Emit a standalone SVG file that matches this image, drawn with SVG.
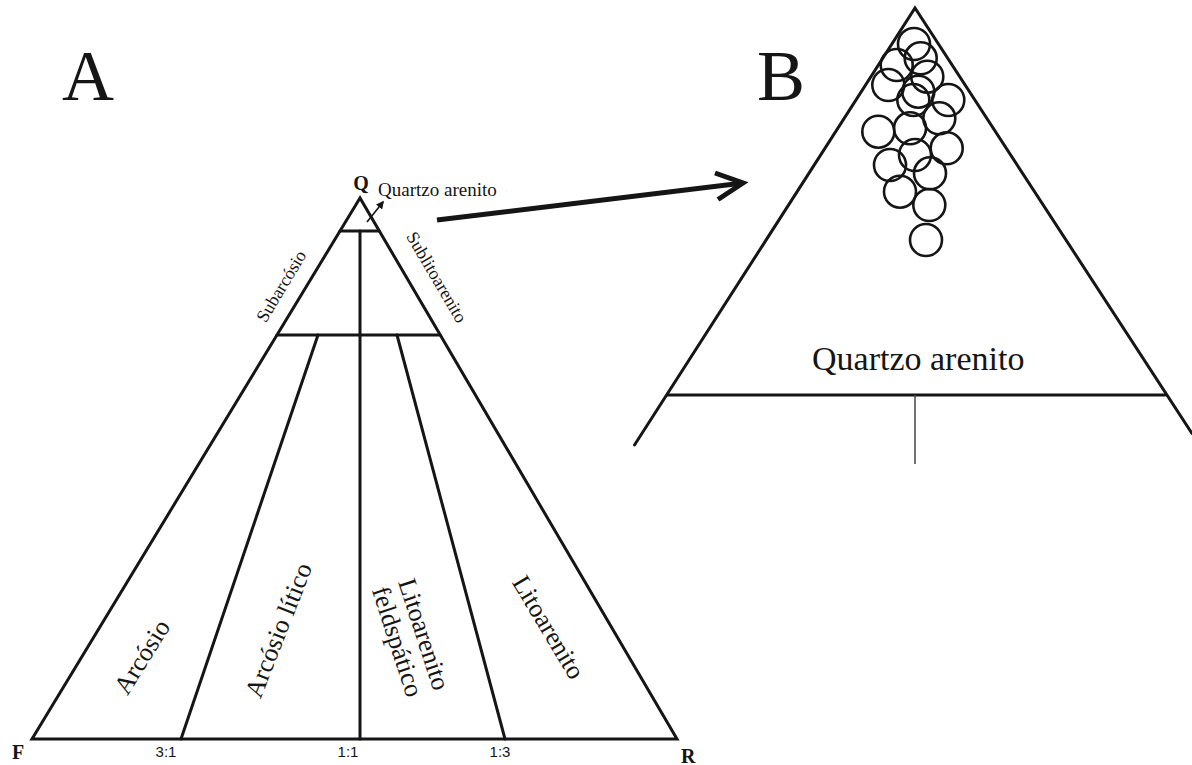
<svg xmlns="http://www.w3.org/2000/svg" width="1192" height="765" viewBox="0 0 1192 765">
<style>
.ln{stroke:#151515;stroke-width:3;fill:none;stroke-linecap:round;stroke-linejoin:miter}
.thin{stroke:#444;stroke-width:1.5;fill:none}
.circ{stroke:#151515;stroke-width:2.6;fill:none}
.serif{font-family:"Liberation Serif","Times New Roman",serif;fill:#151515}
.sans{font-family:"Liberation Sans",Arial,sans-serif;fill:#151515;font-size:15px}
.lab{font-size:26px}
.big{font-size:72px}
.b{font-weight:bold}
</style>
<defs>
<marker id="ah" viewBox="0 0 10 10" refX="8" refY="5" markerWidth="5" markerHeight="5" orient="auto" markerUnits="strokeWidth">
<path d="M0,0 L10,5 L0,10 z" fill="#151515"/>
</marker>
</defs>
<rect width="1192" height="765" fill="#ffffff"/>

<g id="title-A"><text class="serif big" x="62" y="100">A</text></g>
<g id="title-B"><text class="serif big" x="757" y="100">B</text></g>

<g id="triangle-A">
<path class="ln" d="M360,198 L32,739 L677,739 Z"/>
<line class="ln" x1="340" y1="231" x2="379" y2="231"/>
<line class="ln" x1="277" y1="335" x2="440" y2="335"/>
<line class="ln" x1="360" y1="231" x2="360" y2="739"/>
<line class="ln" x1="318" y1="335" x2="181" y2="739"/>
<line class="ln" x1="397" y1="335" x2="505" y2="739"/>
</g>

<g id="vertex-labels">
<text class="serif b" x="361" y="190" font-size="20" text-anchor="middle">Q</text>
<text class="serif b" x="12" y="759" font-size="20">F</text>
<text class="serif b" x="681" y="763" font-size="20">R</text>
</g>

<g id="ratio-labels">
<text class="sans" x="166" y="757" text-anchor="middle">3:1</text>
<text class="sans" x="348" y="757" text-anchor="middle">1:1</text>
<text class="sans" x="500" y="757" text-anchor="middle">1:3</text>
</g>

<g id="field-labels">
<text class="serif" font-size="18" text-anchor="middle" dy="0.35em" transform="translate(281,286) rotate(-59)">Subarcósio</text>
<text class="serif" font-size="18" text-anchor="middle" dy="0.35em" transform="translate(437,277) rotate(59.5)">Sublitoarenito</text>
<text class="serif lab" text-anchor="middle" dy="0.35em" transform="translate(141.5,656.5) rotate(-58)">Arcósio</text>
<text class="serif lab" text-anchor="middle" dy="0.35em" transform="translate(278,630) rotate(-68.5)">Arcósio lítico</text>
<text class="serif lab" text-anchor="middle" dy="0.35em" transform="translate(424.5,634) rotate(72)">Litoarenito</text>
<text class="serif lab" text-anchor="middle" dy="0.35em" transform="translate(398,641.5) rotate(72)">feldspático</text>
<text class="serif lab" text-anchor="middle" dy="0.35em" transform="translate(549,627) rotate(59)">Litoarenito</text>
<text class="serif" x="378" y="196" font-size="19">Quartzo arenito</text>
</g>

<g id="triangle-B">
<path class="ln" d="M634.5,445 L915,8 L1192,433.5"/>
<line class="ln" x1="667" y1="395" x2="1165" y2="395"/>
<line class="thin" x1="915" y1="395" x2="915" y2="464"/>
<text class="serif" x="812" y="370" font-size="34">Quartzo arenito</text>
</g>

<g id="grains">
<circle class="circ" cx="914" cy="44" r="16"/>
<circle class="circ" cx="920.7" cy="58.3" r="16"/>
<circle class="circ" cx="896.7" cy="65" r="16"/>
<circle class="circ" cx="888.3" cy="85" r="16"/>
<circle class="circ" cx="927.3" cy="76.7" r="16"/>
<circle class="circ" cx="918.3" cy="91.7" r="16"/>
<circle class="circ" cx="913.3" cy="100" r="16"/>
<circle class="circ" cx="948.3" cy="100" r="16"/>
<circle class="circ" cx="939.3" cy="118.3" r="16"/>
<circle class="circ" cx="878.3" cy="131.7" r="16"/>
<circle class="circ" cx="910" cy="128.3" r="16"/>
<circle class="circ" cx="946.7" cy="148.3" r="16"/>
<circle class="circ" cx="915" cy="155" r="16"/>
<circle class="circ" cx="890" cy="165" r="16"/>
<circle class="circ" cx="930" cy="173.3" r="16"/>
<circle class="circ" cx="900" cy="191.7" r="16"/>
<circle class="circ" cx="929.3" cy="205" r="16"/>
<circle class="circ" cx="926" cy="240" r="16"/>
</g>

<g id="connectors">
<line x1="367" y1="222" x2="383" y2="202" stroke="#151515" stroke-width="1.6" marker-end="url(#ah)"/>
<line x1="437" y1="220" x2="741" y2="183.3" stroke="#151515" stroke-width="5"/>
<path d="M715,173 L743,183 L718,199.5" stroke="#151515" stroke-width="5" fill="none" stroke-linejoin="miter" stroke-linecap="butt"/>
</g>
</svg>
